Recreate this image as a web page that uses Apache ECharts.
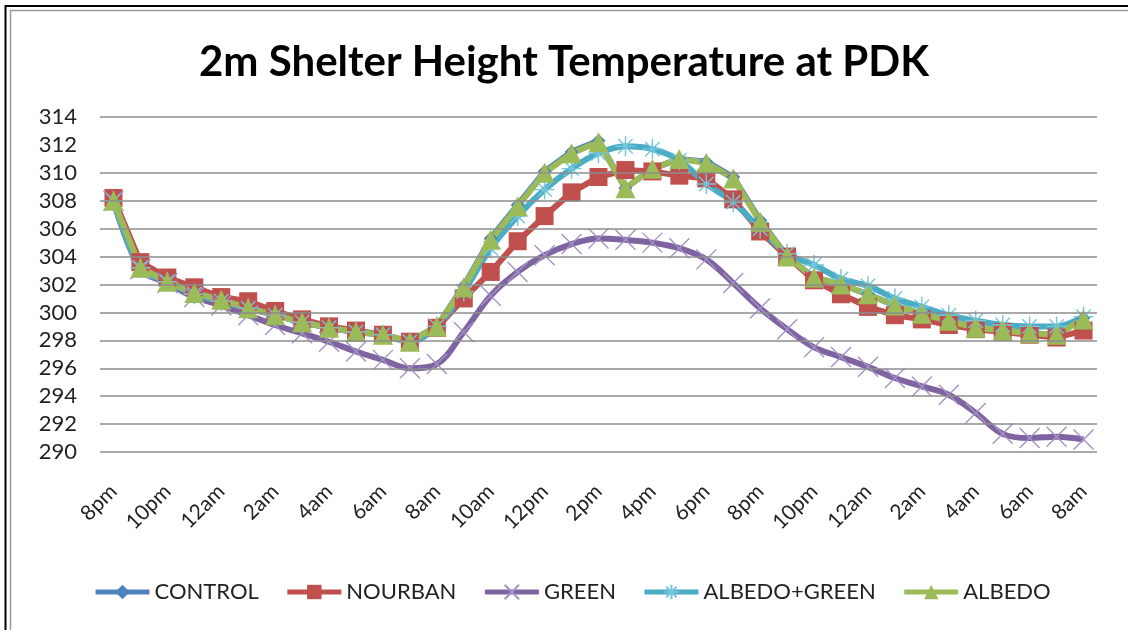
<!DOCTYPE html>
<html>
<head>
<meta charset="utf-8">
<script src="https://cdn.jsdelivr.net/npm/echarts@6/dist/echarts.min.js"></script>
<style>
  html, body { margin: 0; padding: 0; background: #fff; }
  #chart { width: 1128px; height: 630px; }
</style>
</head>
<body>
<div id="chart"></div>
<script>
// Hourly timeline, 8pm through 8am a day and a half later
const categories = [
  '8pm','9pm','10pm','11pm','12am','1am','2am','3am','4am','5am','6am','7am',
  '8am','9am','10am','11am','12pm','1pm','2pm','3pm','4pm','5pm','6pm','7pm',
  '8pm','9pm','10pm','11pm','12am','1am','2am','3am','4am','5am','6am','7am','8am'
];

// 2 m temperature (K) per run
const control = [
  308.0, 303.2, 302.2, 301.4, 300.9, 300.3, 299.8, 299.3, 298.9, 298.6, 298.4, 297.9,
  299.0, 301.9, 305.3, 307.7, 310.1, 311.5, 312.3, 308.9, 310.3, 311.0, 310.8, 309.7,
  306.6, 304.0, 302.5, 302.0, 301.3, 300.5, 299.9, 299.4, 298.9, 298.7, 298.5, 298.4, 299.6
];
const nourban = [
  308.2, 303.6, 302.5, 301.8, 301.1, 300.8, 300.1, 299.5, 299.0, 298.7, 298.4, 297.9,
  298.9, 301.0, 302.9, 305.1, 306.9, 308.6, 309.7, 310.2, 310.1, 309.8, 309.6, 308.1,
  305.8, 304.0, 302.3, 301.3, 300.4, 299.8, 299.5, 299.1, 298.8, 298.6, 298.4, 298.2, 298.7
];
const green = [
  308.0, 303.1, 302.1, 301.1, 300.5, 299.8, 299.1, 298.5, 297.9, 297.2, 296.6, 296.0,
  296.3, 298.6, 301.2, 302.9, 304.1, 304.9, 305.3, 305.2, 305.0, 304.6, 303.8, 302.1,
  300.3, 298.8, 297.5, 296.8, 296.1, 295.3, 294.7, 294.1, 292.8, 291.3, 291.0, 291.1, 290.9
];
const albedoGreen = [
  308.0, 303.2, 302.2, 301.3, 300.8, 300.3, 299.8, 299.3, 298.9, 298.6, 298.4, 297.9,
  299.0, 301.5, 304.6, 306.9, 308.8, 310.3, 311.4, 311.9, 311.7, 310.9, 309.2, 307.9,
  306.0, 304.2, 303.4, 302.4, 301.9, 301.0, 300.4, 299.8, 299.4, 299.1, 299.0, 299.0, 299.7
];
const albedo = [
  308.0, 303.2, 302.2, 301.4, 300.9, 300.3, 299.8, 299.3, 298.9, 298.6, 298.4, 297.9,
  299.0, 301.8, 305.2, 307.6, 310.0, 311.4, 312.2, 308.9, 310.3, 311.0, 310.7, 309.6,
  306.5, 304.0, 302.5, 302.0, 301.3, 300.5, 299.9, 299.4, 298.9, 298.7, 298.5, 298.4, 299.5
];

// horizontal rules (no rule at 312)
const gridValues = [290, 292, 294, 296, 298, 300, 302, 304, 306, 308, 310, 314];

const seriesNames = ['CONTROL', 'NOURBAN', 'GREEN', 'ALBEDO+GREEN', 'ALBEDO'];
const titleText = '2m Shelter Height Temperature at PDK';

const FONT = 'Lato, "Open Sans", sans-serif';
const crossPath = 'path://M0,0 L10,10 M10,0 L0,10';
const starPath = 'path://M5,0 L5,10 M0,5 L10,5 M1.4,1.4 L8.6,8.6 M8.6,1.4 L1.4,8.6';

const chart = echarts.init(document.getElementById('chart'), null, { renderer: 'canvas' });

function lineSeries(name, data, color, extra) {
  return Object.assign({
    name: name,
    type: 'line',
    data: data,
    showSymbol: true,
    showAllSymbol: true,
    symbolSize: 12,
    lineStyle: { color: color, width: 6 },
    itemStyle: { color: color },
    emphasis: { disabled: true },
    z: 3
  }, extra);
}

chart.setOption({
  animation: false,
  backgroundColor: '#ffffff',
  title: {
    text: titleText,
    left: 'center',
    top: 36,
    textStyle: { fontFamily: FONT, fontWeight: 'bold', fontSize: 42, color: '#000' }
  },
  grid: { left: 100, right: 31, top: 117, bottom: 178 },
  legend: {
    bottom: 22,
    left: 88,
    itemWidth: 54,
    itemHeight: 18,
    itemGap: 26,
    lineStyle: { width: 5 },
    textStyle: { fontFamily: FONT, fontSize: 22, color: '#222' },
    data: seriesNames
  },
  xAxis: {
    type: 'category',
    data: categories,
    boundaryGap: true,
    axisLine: { show: false },
    axisTick: { show: false },
    axisLabel: {
      interval: 1,
      rotate: 45,
      margin: 36,
      fontFamily: FONT,
      fontSize: 21,
      color: '#222'
    },
    splitLine: { show: false }
  },
  yAxis: {
    type: 'value',
    min: 290,
    max: 314,
    interval: 2,
    axisLine: { show: false },
    axisTick: { show: false },
    axisLabel: { fontFamily: FONT, fontSize: 22, color: '#222', margin: 23 },
    splitLine: { show: false }
  },
  graphic: [
    { type: 'line', shape: { x1: 5.5, y1: 5, x2: 5.5, y2: 630 }, style: { stroke: '#000', lineWidth: 2 } },
    { type: 'line', shape: { x1: 5, y1: 6, x2: 1128, y2: 6 }, style: { stroke: '#000', lineWidth: 2 } },
    { type: 'line', shape: { x1: 10.5, y1: 10, x2: 10.5, y2: 630 }, style: { stroke: '#9a9a9a', lineWidth: 1.5 } },
    { type: 'line', shape: { x1: 10, y1: 10.5, x2: 1128, y2: 10.5 }, style: { stroke: '#9a9a9a', lineWidth: 1.5 } }
  ],
  series: [
    {
      // carrier for the horizontal rules
      type: 'line',
      data: [],
      silent: true,
      z: 1,
      markLine: {
        silent: true,
        symbol: ['none', 'none'],
        label: { show: false },
        emphasis: { disabled: true },
        lineStyle: { color: '#8c8c8c', width: 1.5, type: 'solid' },
        data: gridValues.map(v => ({ yAxis: v }))
      }
    },
    lineSeries(seriesNames[0], control, '#4F81BD', { symbol: 'diamond', symbolSize: 14 }),
    lineSeries(seriesNames[1], nourban, '#C0504D', { symbol: 'rect', symbolSize: 18 }),
    lineSeries(seriesNames[2], green, '#8064A2', {
      symbol: crossPath, symbolSize: 20, smooth: 0.35,
      itemStyle: { color: 'rgba(0,0,0,0)', borderColor: '#a393c6', borderWidth: 1.4 }
    }),
    lineSeries(seriesNames[3], albedoGreen, '#4BACC6', {
      symbol: starPath, symbolSize: 20, smooth: 0.35,
      itemStyle: { color: 'rgba(0,0,0,0)', borderColor: '#74c6dc', borderWidth: 1.4 }
    }),
    lineSeries(seriesNames[4], albedo, '#9BBB59', { symbol: 'triangle', symbolSize: 20 })
  ]
});
</script>
</body>
</html>
